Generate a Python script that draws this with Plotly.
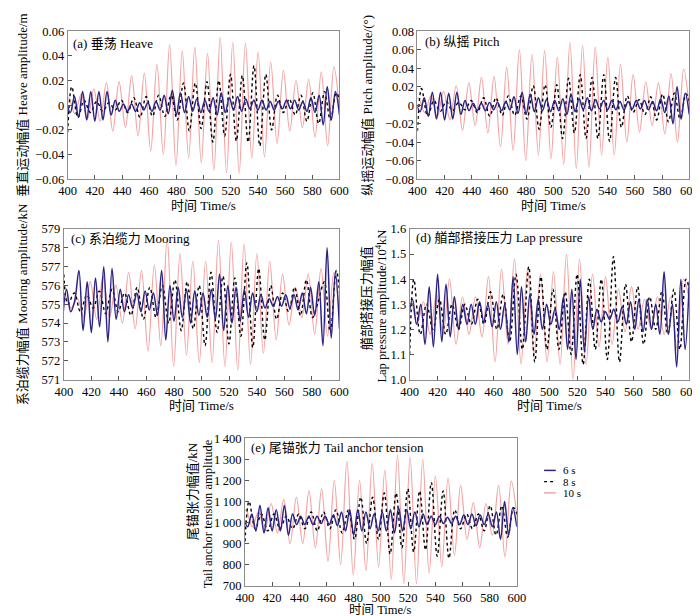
import plotly.graph_objects as go

# ----------------------------------------------------------------------------
# -- turning points (peaks / troughs), 400-600 s ------------------------------
# ----------------------------------------------------------------------------

t_10s = [396.0, 400.6, 405.3, 409.9, 414.6, 419.2, 423.9, 428.5, 433.2, 437.8, 442.5, 447.1,
         451.8, 456.4, 461.1, 465.7, 470.4, 475.0, 479.7, 484.3, 489.0, 493.6, 498.3, 502.9,
         507.6, 512.2, 516.9, 521.5, 526.2, 530.8, 535.5, 540.1, 544.8, 549.4, 554.1, 558.7,
         563.4, 568.0, 572.7, 577.3, 582.0, 586.6, 591.3, 595.9, 600.6]
t_8s = [400.0, 403.0, 407.6, 412.1, 416.7, 421.3, 425.8, 430.4, 435.0, 439.5, 444.1, 448.7,
        453.2, 457.8, 462.4, 466.9, 471.5, 476.1, 480.6, 485.2, 489.5, 493.9, 498.2, 502.5,
        506.8, 511.2, 515.5, 519.8, 524.1, 528.5, 532.8, 537.1, 541.4, 545.8, 550.1, 554.4,
        558.7, 563.1, 567.4, 571.7, 576.0, 580.4, 584.7, 589.0, 593.3, 597.7, 602.0]
t_6s = list(range(399, 601, 3))

# (a) heave / m
heave_10s = [-0.002, 0.006, -0.007, 0.009, -0.011, 0.013, -0.013, 0.018, -0.021, 0.019, -0.018, 0.024,
             -0.025, 0.026, -0.037, 0.033, -0.040, 0.049, -0.049, 0.044, -0.043, 0.047, -0.047, 0.042,
             -0.053, 0.055, -0.055, 0.051, -0.055, 0.050, -0.043, 0.043, -0.042, 0.035, -0.031, 0.028,
             -0.021, 0.020, -0.018, 0.021, -0.026, 0.027, -0.033, 0.031, -0.012]
heave_8s = [-0.022, 0.015, -0.010, 0.004, -0.006, 0.003, -0.005, 0.002, -0.004, 0.004, -0.006, 0.006,
            -0.010, 0.007, -0.009, 0.008, -0.009, 0.008, -0.012, 0.018, -0.021, 0.018, -0.019, 0.019,
            -0.030, 0.020, -0.025, 0.025, -0.029, 0.024, -0.030, 0.032, -0.033, 0.025, -0.020, 0.008,
            -0.006, 0.005, -0.008, 0.008, -0.013, 0.010, -0.015, 0.011, -0.012, 0.010, -0.005]
heave_6s = [0.002, -0.006, 0.007, -0.010, 0.011, -0.012, 0.011, -0.013, 0.011, -0.012, 0.011, -0.008,
            0.004, -0.005, 0.001, -0.005, 0.001, -0.005, 0.002, -0.004, 0.002, -0.005, 0.003, -0.004,
            0.008, -0.007, 0.012, -0.008, 0.010, -0.006, 0.007, -0.005, 0.005, -0.006, 0.004, -0.005,
            0.006, -0.008, 0.010, -0.006, 0.006, -0.004, 0.007, -0.005, 0.005, -0.003, 0.004, -0.004,
            0.004, -0.004, 0.003, -0.004, 0.003, -0.003, 0.004, -0.003, 0.004, -0.004, 0.003, -0.005,
            0.006, -0.006, 0.008, -0.016, 0.015, -0.012, 0.011, -0.008]

# (b) pitch / deg
pitch_10s = [-0.003, 0.008, -0.008, 0.010, -0.013, 0.015, -0.016, 0.021, -0.027, 0.024, -0.022, 0.030,
             -0.030, 0.031, -0.045, 0.041, -0.049, 0.060, -0.060, 0.055, -0.054, 0.059, -0.058, 0.052,
             -0.064, 0.068, -0.068, 0.065, -0.067, 0.063, -0.054, 0.052, -0.054, 0.044, -0.040, 0.033,
             -0.029, 0.025, -0.022, 0.024, -0.031, 0.034, -0.040, 0.039, -0.012]
pitch_8s = [-0.028, 0.018, -0.012, 0.005, -0.007, 0.004, -0.006, 0.003, -0.005, 0.005, -0.008, 0.008,
            -0.012, 0.008, -0.011, 0.010, -0.011, 0.010, -0.015, 0.021, -0.026, 0.022, -0.024, 0.022,
            -0.036, 0.029, -0.030, 0.033, -0.036, 0.030, -0.036, 0.033, -0.039, 0.030, -0.024, 0.010,
            -0.008, 0.006, -0.010, 0.009, -0.016, 0.012, -0.018, 0.013, -0.015, 0.012, -0.006]
pitch_6s = [0.002, -0.007, 0.008, -0.012, 0.014, -0.015, 0.014, -0.016, 0.013, -0.015, 0.014, -0.010,
            0.005, -0.006, 0.002, -0.006, 0.002, -0.006, 0.003, -0.005, 0.003, -0.006, 0.004, -0.005,
            0.009, -0.009, 0.014, -0.010, 0.012, -0.007, 0.008, -0.006, 0.006, -0.007, 0.005, -0.006,
            0.007, -0.010, 0.012, -0.007, 0.007, -0.005, 0.008, -0.006, 0.006, -0.004, 0.005, -0.005,
            0.005, -0.005, 0.004, -0.005, 0.004, -0.004, 0.005, -0.004, 0.005, -0.005, 0.004, -0.006,
            0.007, -0.008, 0.010, -0.020, 0.020, -0.015, 0.013, -0.010]

# (c) mooring line force / kN
mooring_10s = [575.0, 575.5, 574.8, 575.3, 574.3, 576.2, 574.2, 576.5, 574.3, 576.0, 574.0, 576.7,
               573.7, 576.8, 572.5, 577.1, 572.8, 578.5, 571.7, 577.7, 572.3, 577.3, 571.9, 577.3,
               571.9, 578.4, 571.7, 578.3, 571.5, 578.2, 571.8, 577.7, 572.4, 577.3, 573.1, 576.6,
               573.9, 575.9, 574.3, 576.6, 573.4, 576.9, 573.3, 576.7, 574.0]
mooring_8s = [576.6, 575.0, 575.6, 574.6, 575.5, 574.8, 575.7, 574.5, 575.8, 574.6, 575.6, 574.4,
              575.9, 574.2, 575.9, 574.3, 576.0, 574.0, 576.3, 573.6, 576.2, 573.7, 576.0, 572.8,
              576.7, 573.5, 576.5, 572.9, 576.4, 573.3, 577.2, 572.7, 576.9, 573.1, 576.0, 574.2,
              575.6, 574.6, 575.9, 574.4, 576.3, 574.3, 575.2, 576.2, 573.5, 576.8, 573.8]
mooring_6s = [574.0, 575.8, 574.6, 575.2, 576.8, 573.6, 576.2, 573.5, 576.4, 573.8, 577.0, 573.0,
              576.9, 574.2, 575.8, 574.6, 575.5, 574.8, 575.6, 574.6, 575.7, 574.7, 575.6, 574.4,
              576.8, 573.1, 576.0, 574.1, 575.9, 574.3, 575.8, 574.0, 575.7, 574.4, 575.6, 574.3,
              575.8, 574.2, 576.6, 573.6, 576.0, 574.0, 575.9, 574.1, 575.8, 574.3, 575.6, 574.6,
              575.5, 574.8, 575.3, 574.9, 575.4, 574.9, 575.5, 574.8, 575.5, 574.7, 575.6, 574.5,
              575.9, 574.4, 576.2, 572.8, 578.0, 573.2, 576.7, 573.7]

# (d) bow lap pressure / 10^4 kN
lap_10s = [1.26, 1.32, 1.22, 1.31, 1.18, 1.34, 1.18, 1.40, 1.14, 1.33, 1.18, 1.33,
           1.17, 1.41, 1.07, 1.44, 1.14, 1.48, 1.06, 1.44, 1.10, 1.42, 1.07, 1.43,
           1.06, 1.50, 1.00, 1.48, 1.06, 1.42, 1.13, 1.41, 1.14, 1.36, 1.19, 1.37,
           1.20, 1.32, 1.20, 1.33, 1.18, 1.33, 1.12, 1.40, 1.30]
lap_8s = [1.10, 1.40, 1.18, 1.30, 1.20, 1.32, 1.18, 1.30, 1.20, 1.30, 1.22, 1.32,
          1.22, 1.35, 1.20, 1.34, 1.15, 1.42, 1.12, 1.45, 1.07, 1.41, 1.12, 1.36,
          1.12, 1.35, 1.10, 1.42, 1.06, 1.40, 1.12, 1.40, 1.08, 1.49, 1.07, 1.38,
          1.15, 1.37, 1.14, 1.33, 1.20, 1.35, 1.18, 1.36, 1.12, 1.40, 1.30]
lap_6s = [1.24, 1.32, 1.22, 1.30, 1.14, 1.37, 1.13, 1.42, 1.15, 1.38, 1.17, 1.33,
          1.20, 1.30, 1.22, 1.30, 1.22, 1.31, 1.23, 1.30, 1.21, 1.31, 1.20, 1.30,
          1.15, 1.41, 1.10, 1.37, 1.15, 1.34, 1.18, 1.32, 1.20, 1.30, 1.22, 1.28,
          1.20, 1.33, 1.12, 1.36, 1.08, 1.40, 1.11, 1.33, 1.20, 1.28, 1.23, 1.27,
          1.24, 1.28, 1.23, 1.29, 1.22, 1.31, 1.20, 1.32, 1.19, 1.32, 1.20, 1.30,
          1.18, 1.43, 1.18, 1.30, 1.05, 1.40, 1.12, 1.39]

# (e) tail anchor tension / kN
tail_10s = [1010, 1060, 980, 1050, 960, 1090, 950, 1110, 900, 1120, 900, 1150,
            880, 1160, 815, 1200, 800, 1290, 750, 1200, 770, 1280, 790, 1250,
            730, 1320, 710, 1310, 710, 1300, 760, 1220, 790, 1210, 845, 1176,
            920, 1094, 880, 1090, 940, 1176, 836, 1196, 1000]
tail_8s = [910, 1100, 970, 1040, 960, 1040, 970, 1030, 970, 1040, 970, 1050,
           960, 1050, 970, 1060, 950, 1060, 920, 1120, 900, 1120, 920, 1140,
           850, 1140, 880, 1160, 860, 1150, 870, 1190, 840, 1150, 830, 1060,
           970, 1040, 970, 1040, 960, 1080, 940, 1080, 930, 1070, 1000]
tail_6s = [1020, 980, 1040, 960, 1080, 950, 1070, 960, 1060, 960, 1080, 940,
           1040, 990, 1030, 990, 1030, 990, 1030, 995, 1030, 990, 1035, 985,
           1050, 960, 1060, 940, 1060, 960, 1050, 970, 1040, 960, 1050, 960,
           1060, 950, 1070, 960, 1060, 970, 1050, 980, 1040, 990, 1030, 990,
           1030, 995, 1025, 995, 1030, 990, 1035, 990, 1040, 985, 1035, 990,
           1040, 980, 1050, 920, 1100, 940, 1070, 980]

x_ticks = [400, 420, 440, 460, 480, 500, 520, 540, 560, 580, 600]
tail_ticks = [700, 800, 900, 1000, 1100, 1200, 1300, 1400]
tail_tick_text = ['700', '800', '900', '1\u2009000', '1\u2009100', '1\u2009200', '1\u2009300', '1\u2009400']

series_names = ['6 s', '8 s', '10 s']

# ----------------------------------------------------------------------------
# -- layout of the five panels ------------------------------------------------
# ----------------------------------------------------------------------------

W, H = 700, 616
FONT = 'Liberation Serif, Times New Roman, Noto Sans CJK SC, serif'
BLUE = '#2c2385'
RED = '#f4a2a2'
FRAME = '#8c8c8c'


def px(x):
    return x / W


def py(y):
    return 1 - y / H


# pixel boxes: left, right, top, bottom
panels = [
    dict(box=(52, 331, 16.5, 168), yr=[-0.06, 0.06], dtick=0.02, fmt=None,
         data=(heave_6s, heave_8s, heave_10s)),
    dict(box=(411, 690, 16.5, 168), yr=[-0.08, 0.08], dtick=0.02, fmt=None,
         data=(pitch_6s, pitch_8s, pitch_10s)),
    dict(box=(48, 331, 219, 373), yr=[571, 579], dtick=1, fmt=None,
         data=(mooring_6s, mooring_8s, mooring_10s)),
    dict(box=(403, 690, 219, 373), yr=[1.0, 1.6], dtick=0.1, fmt='.1f',
         data=(lap_6s, lap_8s, lap_10s)),
    dict(box=(234, 513, 433, 584), yr=[700, 1400], dtick=None, fmt=None,
         data=(tail_6s, tail_8s, tail_10s)),
]

fig = go.Figure()
layout = {}
for i, p in enumerate(panels, start=1):
    l, r, t, b = p['box']
    sfx = '' if i == 1 else str(i)
    axis_common = dict(showline=True, linecolor=FRAME, linewidth=1, mirror=True,
                       ticks='inside', ticklen=4, tickcolor='#555555', showgrid=False,
                       zeroline=False, tickfont=dict(family=FONT, size=12.5, color='black'))
    layout['xaxis' + sfx] = dict(domain=[px(l), px(r)], range=[400, 600], tickvals=x_ticks,
                                 anchor='y' + sfx, **axis_common)
    ya = dict(domain=[py(b), py(t)], range=p['yr'], anchor='x' + sfx, **axis_common)
    if p['dtick'] is None:
        ya.update(tickvals=tail_ticks, ticktext=tail_tick_text)
    else:
        ya.update(dtick=p['dtick'], tick0=p['yr'][0])
    if p['fmt']:
        ya['tickformat'] = p['fmt']
    layout['yaxis' + sfx] = ya

    v6, v8, v10 = p['data']
    fig.add_trace(go.Scatter(x=t_10s, y=v10, mode='lines', line=dict(color=RED, width=1.2, shape='spline'),
                             xaxis='x' + sfx, yaxis='y' + sfx, showlegend=False))
    fig.add_trace(go.Scatter(x=t_8s, y=v8, mode='lines',
                             line=dict(color='black', width=1.4, dash='dot', shape='spline'),
                             xaxis='x' + sfx, yaxis='y' + sfx, showlegend=False))
    fig.add_trace(go.Scatter(x=t_6s, y=v6, mode='lines', line=dict(color=BLUE, width=1.5, shape='spline'),
                             xaxis='x' + sfx, yaxis='y' + sfx, showlegend=False))

# ----------------------------------------------------------------------------
# -- texts --------------------------------------------------------------------
# ----------------------------------------------------------------------------

ann = []


def text(s, x, y, angle=0, xanchor='center', size=13):
    ann.append(dict(text=s, x=px(x), y=py(y), xref='paper', yref='paper', showarrow=False,
                    textangle=angle, xanchor=xanchor, yanchor='middle',
                    font=dict(family=FONT, size=size, color='black')))


# panel labels
text('(a) 垂荡 Heave', 55, 29, xanchor='left')
text('(b) 纵摇 Pitch', 417, 27, xanchor='left')
text('(c) 系泊缆力 Mooring', 53, 229, xanchor='left')
text('(d) 艏部搭接压力 Lap pressure', 407, 228, xanchor='left')
text('(e) 尾锚张力 Tail anchor tension', 238, 443, xanchor='left')

# x titles
for p, y, s in zip(panels, [195, 195, 400, 400, 609], [13, 13, 13, 13, 12.5]):
    l, r, t, b = p['box']
    text('时间 Time/s', (l + r) / 2, y, size=s)

# y titles
text('垂直运动幅值 Heave amplitude/m', 6, 92, angle=-90)
text('纵摇运动幅值 Pitch amplitude/(°)', 360, 92, angle=-90)
text('系泊缆力幅值 Mooring amplitude/kN', 5, 296, angle=-90)
text('艏部搭接压力幅值', 359, 290, angle=-90)
text('Lap pressure amplitude/10<sup>4</sup>kN', 374, 298, angle=-90, size=12.5)
text('尾锚张力幅值/kN', 181, 487, angle=-90)
text('Tail anchor tension amplitude', 196, 510, angle=-90, size=12.5)

# legend
shapes = []
legend_rows = [(466, BLUE, 'solid', 1.5), (477.5, 'black', 'dot', 1.4), (489, RED, 'solid', 1.5)]
for name, (y, c, d, w) in zip(series_names, legend_rows):
    shapes.append(dict(type='line', xref='paper', yref='paper', x0=px(541), x1=px(553),
                       y0=py(y), y1=py(y), line=dict(color=c, width=w, dash=d)))
    text(name, 558, y, xanchor='left', size=11)

fig.update_layout(width=W, height=H, margin=dict(l=0, r=0, t=0, b=0),
                  paper_bgcolor='white', plot_bgcolor='white', showlegend=False,
                  annotations=ann, shapes=shapes, **layout)
fig.write_html('out.html')
